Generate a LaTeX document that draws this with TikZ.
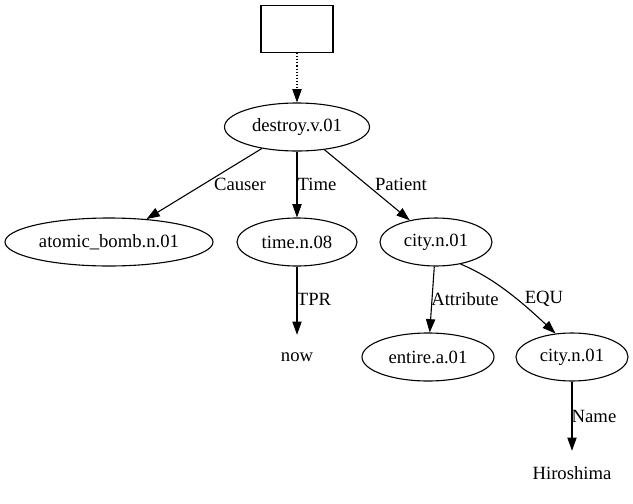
\documentclass[tikz,border=0pt]{standalone}
\usepackage{fontspec}
\setmainfont{Liberation Serif}
\usetikzlibrary{shapes.geometric,arrows.meta}
\begin{document}
\begin{tikzpicture}[x=1pt,y=-1pt,
  txt/.style={font=\fontsize{18.67}{21}\selectfont},
  el/.style={draw,ellipse,line width=1.1pt,inner sep=0pt,minimum height=48pt,txt},
  plain/.style={inner sep=1pt,minimum height=44pt,txt},
  lbl/.style={inner sep=0pt,txt},
  edge/.style={draw,line width=1.1pt,-{Triangle[length=13.3pt,width=9.3pt]}}]
\useasboundingbox (0,0) rectangle (633,504);
\node[draw,rectangle,line width=1.1pt,minimum width=72pt,minimum height=47pt,inner sep=0pt] (top) at (297,29) {};
\node[el,minimum width=145pt] (destroy) at (297,127) {destroy.v.01};
\node[el,minimum width=208pt] (bomb) at (109,242) {atomic\_bomb.n.01};
\node[el,minimum width=120pt] (time) at (297,242) {time.n.08};
\node[el,minimum width=112pt] (city) at (436,242) {city.n.01};
\node[plain] (now) at (297,357) {now};
\node[el,minimum width=132pt] (entire) at (428,357) {entire.a.01};
\node[el,minimum width=112pt] (city2) at (572,357) {city.n.01};
\node[plain] (hiro) at (572,473) {Hiroshima};
\draw[edge,dotted] (top) -- (destroy);
\draw[edge] (destroy) -- (bomb);
\draw[edge] (destroy) -- (time);
\draw[edge] (destroy) -- (city);
\draw[edge] (time) -- (now);
\draw[edge] (city) -- (entire);
\draw[edge] (city.-42) .. controls (495,278) and (525,305) .. (city2.125);
\draw[edge] (city2) -- (hiro);
\node[lbl] (l1) at (240,184) {Causer};
\node[lbl] (l2) at (317,184) {Time};
\node[lbl] (l3) at (401,184) {Patient};
\node[lbl] (l4) at (314,299) {TPR};
\node[lbl] (l5) at (465,299) {Attribute};
\node[lbl] (l6) at (544,299) {EQU};
\node[lbl] (l7) at (594,416) {Name};
\end{tikzpicture}
\end{document}
